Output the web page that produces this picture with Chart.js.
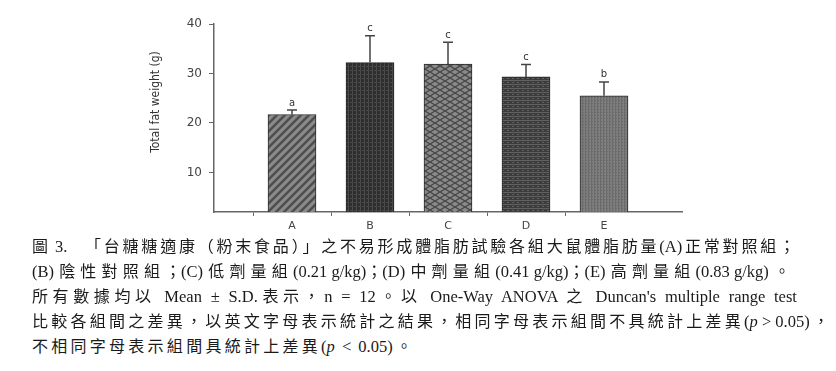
<!DOCTYPE html>
<html lang="zh-Hant">
<head>
  <meta charset="UTF-8">
  <title>Total fat weight</title>
  <script src="https://cdn.jsdelivr.net/npm/chart.js"></script>
  <style>
    body {
      margin: 0;
      background: #fff;
      width: 836px;
      height: 371px;
      position: relative;
      overflow: hidden;
    }
    #wrap {
      position: absolute;
      left: 0;
      top: 0;
      width: 836px;
      height: 240px;
    }
    .cap {
      position: absolute;
      left: 32px;
      font-family: "Liberation Serif", "Noto Sans CJK TC", serif;
      font-size: 16px;
      color: #1a1a1a;
      white-space: nowrap;
      text-align: justify;
      text-align-last: justify;
      line-height: 20px;
    }
    .cap .l { font-size: 16.5px; white-space: pre; }
    /* kept as one block so justify only spreads the CJK */
    .cap .b { display: inline-block; }
    .cap i { font-style: italic; }
  </style>
</head>
<body>
  <div id="wrap"><canvas id="fatChart"></canvas></div>

  <div class="cap" style="top:237px;width:763px">圖<span class="l b"> 3. </span>　「台糖糖適康（粉末食品）」之不易形成體脂肪試驗各組大鼠體脂肪量<span class="l b">(A)</span>正常對照組；</div>
  <div class="cap" style="top:262px;width:758px"><span class="l b">(B)</span>陰性對照組；<span class="l b">(C)</span>低劑量組<span class="l b">(0.21 g/kg)</span>；<span class="l b">(D)</span>中劑量組<span class="l b">(0.41 g/kg)</span>；<span class="l b">(E)</span>高劑量組<span class="l b">(0.83 g/kg)</span>。</div>
  <div class="cap" style="top:287px;width:765px">所有數據均以<span class="l"> Mean ± S.D.</span>表示，<span class="l">n = 12</span>。以<span class="l"> One-Way ANOVA </span>之<span class="l"> Duncan's multiple range test</span></div>
  <div class="cap" style="top:312px;width:797px">比較各組間之差異，以英文字母表示統計之結果，相同字母表示組間不具統計上差異<span class="l b">(<i>p</i> &gt; 0.05)</span>，</div>
  <div class="cap" style="top:337px;width:380px">不相同字母表示組間具統計上差異<span class="l b" style="word-spacing:3px">(<i>p</i> &lt; 0.05)</span>。</div>

  <script>
    // groups and results
    const groups = ['A', 'B', 'C', 'D', 'E'];
    const means = [21.7, 32.2, 31.9, 29.3, 25.5];
    const sds = [0.9, 5.4, 4.4, 2.5, 2.8];
    const letters = ['a', 'c', 'c', 'c', 'b'];
    const yTicks = [10, 20, 30, 40];

    // little canvas tiles for the hatch fills
    function tile(w, h, draw) {
      const c = document.createElement('canvas');
      c.width = w; c.height = h;
      const g = c.getContext('2d');
      draw(g, w, h);
      return document.createElement('canvas').getContext('2d').createPattern(c, 'repeat');
    }

    const patterns = [
      // A: diagonal stripes
      tile(8, 8, (g, w, h) => {
        g.fillStyle = '#8a8a8a'; g.fillRect(0, 0, w, h);
        g.strokeStyle = '#4e4e4e'; g.lineWidth = 2.4;
        g.beginPath();
        g.moveTo(-4, 4); g.lineTo(4, -4);
        g.moveTo(0, 8); g.lineTo(8, 0);
        g.moveTo(4, 12); g.lineTo(12, 4);
        g.stroke();
      }),
      // B: dark mesh
      tile(4, 4, (g, w, h) => {
        g.fillStyle = '#2e2e2e'; g.fillRect(0, 0, w, h);
        g.fillStyle = '#4a4a4a'; g.fillRect(0, 0, 1, 4); g.fillRect(2, 2, 2, 1);
      }),
      // C: diamond cross hatch
      tile(10, 6, (g, w, h) => {
        g.fillStyle = '#8a8a8a'; g.fillRect(0, 0, w, h);
        g.strokeStyle = '#484848'; g.lineWidth = 1.3;
        g.beginPath();
        g.moveTo(0, 0); g.lineTo(10, 6);
        g.moveTo(0, 6); g.lineTo(10, 0);
        g.stroke();
      }),
      // D: dark fine grid
      tile(5, 4, (g, w, h) => {
        g.fillStyle = '#3c3c3c'; g.fillRect(0, 0, w, h);
        g.fillStyle = '#616161'; g.fillRect(0, 0, 5, 1); g.fillRect(2, 2, 2, 1);
      }),
      // E: medium grey texture
      tile(3, 3, (g, w, h) => {
        g.fillStyle = '#7e7e7e'; g.fillRect(0, 0, w, h);
        g.fillStyle = '#6a6a6a'; g.fillRect(0, 0, 1, 3); g.fillRect(1, 1, 1, 1);
      })
    ];

    // pad with empty slots so the bars sit one step in from each end
    const labels = [''].concat(groups, ['']);
    const values = [null].concat(means, [null]);

    const errorBars = {
      id: 'errorBars',
      afterDatasetsDraw(chart) {
        const { ctx, scales: { x, y } } = chart;
        ctx.save();
        ctx.strokeStyle = '#444';
        ctx.lineWidth = 1.5;
        ctx.fillStyle = '#333';
        ctx.font = '10px "DejaVu Sans"';
        ctx.textAlign = 'center';
        ctx.textBaseline = 'bottom';
        means.forEach((m, i) => {
          const px = x.getPixelForValue(i + 1);
          const y0 = y.getPixelForValue(m);
          const y1 = y.getPixelForValue(m + sds[i]);
          ctx.beginPath();
          ctx.moveTo(px, y0);
          ctx.lineTo(px, y1);
          ctx.moveTo(px - 5, y1);
          ctx.lineTo(px + 5, y1);
          ctx.stroke();
          ctx.fillText(letters[i], px, y1 - 2);
        });
        // y axis title, sits a bit above the middle of the axis
        ctx.save();
        ctx.translate(156, 102);
        ctx.rotate(-Math.PI / 2);
        ctx.font = '12px "DejaVu Sans Condensed"';
        ctx.fillStyle = '#333';
        ctx.textBaseline = 'middle';
        ctx.fillText('Total fat weight (g)', 0, 0);
        ctx.restore();
        ctx.restore();
      }
    };

    new Chart(document.getElementById('fatChart'), {
      type: 'bar',
      data: {
        labels: labels,
        datasets: [{
          data: values,
          backgroundColor: [null].concat(patterns, [null]),
          borderColor: '#2a2a2a',
          borderWidth: 1,
          borderSkipped: 'bottom',
          barThickness: 48
        }]
      },
      options: {
        responsive: true,
        maintainAspectRatio: false,
        animation: false,
        layout: { padding: { left: 174, right: 154, top: 24, bottom: 0 } },
        plugins: {
          legend: { display: false },
          tooltip: { enabled: false }
        },
        scales: {
          x: {
            offset: false,
            afterFit: s => { s.height = 28; },
            border: { color: '#666', width: 1.5 },
            grid: {
              drawOnChartArea: false,
              tickLength: 4,
              tickColor: c => (c.index === 0 || c.index === labels.length - 1) ? 'rgba(0,0,0,0)' : '#666'
            },
            ticks: {
              color: '#444',
              font: { family: 'DejaVu Sans', size: 11 },
              padding: 4,
              maxRotation: 0,
              autoSkip: false
            }
          },
          y: {
            min: 2,
            max: 40,
            afterFit: s => { s.width = 40; },
            afterBuildTicks: s => { s.ticks = yTicks.map(v => ({ value: v })); },
            border: { color: '#666', width: 1.5 },
            grid: { drawOnChartArea: false, tickLength: 5, tickColor: '#666' },
            ticks: {
              color: '#444',
              font: { family: 'DejaVu Sans', size: 12 },
              padding: 7
            }
          }
        }
      },
      plugins: [errorBars]
    });
  </script>
</body>
</html>
